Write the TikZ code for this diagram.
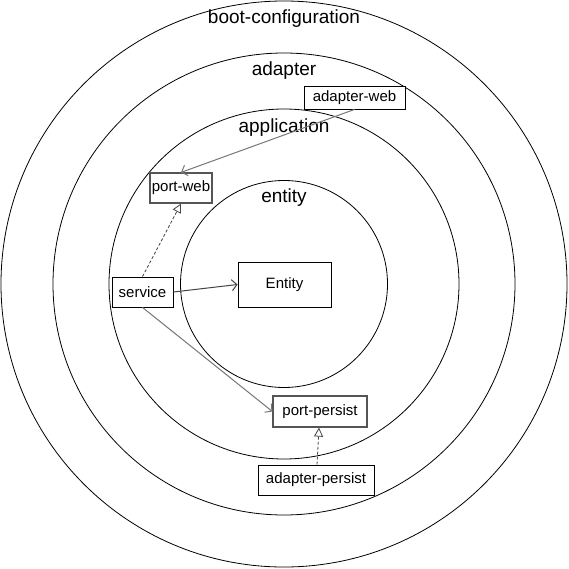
\documentclass[tikz,border=0pt]{standalone}
\usepackage{fontspec}
\setmainfont{Liberation Sans}
\usetikzlibrary{arrows.meta}
\definecolor{lgray}{HTML}{777777}
\definecolor{dgray}{HTML}{444444}
\definecolor{bgray}{HTML}{555555}
\tikzset{
  ring/.style={draw=black, line width=0.8pt},
  ringlabel/.style={anchor=base, inner sep=0pt, font=\fontsize{19}{23}\selectfont},
  box/.style={draw=black, fill=white, line width=0.9pt, rectangle, inner sep=0pt, font=\fontsize{15}{18}\selectfont},
  portbox/.style={box, draw=bgray, line width=1.2pt},
  uses/.style={line width=1pt, -{Straight Barb[length=5pt,width=11pt]}},
  realizes/.style={line width=0.8pt, dashed, dash pattern=on 3pt off 2pt, -{Triangle[open,length=9pt,width=9pt,fill=white]}},
}
\begin{document}
\begin{tikzpicture}[x=1pt,y=-1pt]
\useasboundingbox (0,0) rectangle (569,569);
\fill[white] (0,0) rectangle (569,569);
\coordinate (c) at (284,284);
\draw[ring] (c) circle[radius=283];
\draw[ring] (c) circle[radius=231];
\draw[ring] (c) circle[radius=175];
\draw[ring] (c) circle[radius=103.5];

\node[ringlabel] (lboot) at (284,24) {boot-configuration};
\node[ringlabel] (ladapter) at (284,76) {adapter};
\node[ringlabel] (lapp) at (284,133) {application};
\node[ringlabel] (lentity) at (284,203) {entity};

\node[box, minimum width=101pt, minimum height=23pt] (aweb) at (354.5,97.5) {adapter-web};
\node[portbox, minimum width=62pt, minimum height=30pt] (pweb) at (181,188) {port-web};
\node[box, minimum width=93pt, minimum height=45pt] (ent) at (284.5,284.5) {Entity};
\node[box, minimum width=61pt, minimum height=30pt] (svc) at (142.5,292) {service};
\node[portbox, minimum width=94pt, minimum height=31pt] (ppers) at (320,411.5) {port-persist};
\node[box, minimum width=116pt, minimum height=30pt] (apers) at (316,480) {adapter-persist};

\draw[uses, draw=lgray] (aweb.south) -- (pweb.north);
\draw[realizes, draw=dgray] (svc.north) -- (pweb.south);
\draw[uses, draw=dgray] (svc.east) -- (ent.west);
\draw[uses, draw=lgray] (svc.south) -- (ppers.west);
\draw[realizes, draw=dgray] ([xshift=1pt]apers.north) -- ([xshift=-1pt]ppers.south);
\end{tikzpicture}
\end{document}
